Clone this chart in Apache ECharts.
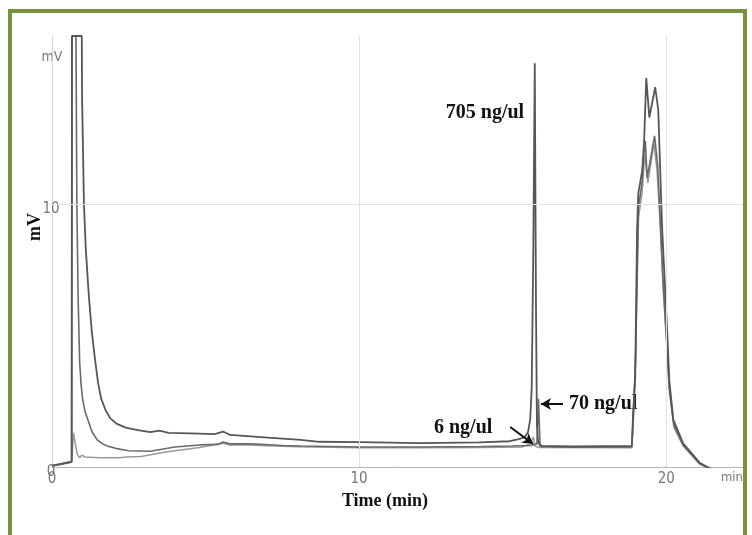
<!DOCTYPE html>
<html>
<head>
<meta charset="utf-8">
<script src="https://cdn.jsdelivr.net/npm/echarts@6/dist/echarts.min.js"></script>
<style>
  html, body { margin: 0; padding: 0; background: #fff; }
  #chart { width: 752px; height: 535px; }
</style>
</head>
<body>
<div id="chart"></div>
<script>
// trace 1 (705 ng/ul) - time (min) and signal (mV)
var timeA = [0, 0.3, 0.64, 0.65, 0.97, 0.98, 1.04, 1.1, 1.2, 1.3, 1.4, 1.5, 1.6, 1.75, 1.9, 2.1, 2.4, 2.8, 3.2, 3.5, 3.8, 4.5, 5.3, 5.57, 5.8, 6.8, 8.1, 8.7, 10, 12, 13.9, 14.9, 15.2, 15.4, 15.5, 15.57, 15.62, 15.67, 15.72, 15.76, 15.79, 15.83, 15.9, 17, 18.88, 18.92, 18.99, 19.05, 19.09, 19.22, 19.28, 19.35, 19.45, 19.64, 19.74, 19.84, 19.87, 20.03, 20.1, 20.23, 20.55, 21.1, 21.5];
var mvA   = [0.05, 0.12, 0.2, 16.4, 16.4, 14, 10, 8.3, 6.5, 5.1, 4.1, 3.2, 2.6, 2.15, 1.85, 1.65, 1.5, 1.4, 1.33, 1.38, 1.3, 1.28, 1.25, 1.35, 1.22, 1.14, 1.03, 0.96, 0.95, 0.91, 0.94, 0.98, 1.06, 1.14, 1.33, 1.8, 3, 8, 15.36, 6, 1.6, 0.95, 0.8, 0.78, 0.8, 2, 3.4, 9, 10.4, 11.3, 12.4, 14.8, 13.3, 14.45, 13.6, 10, 9, 5.2, 3.3, 1.8, 0.9, 0.15, -0.1];

// trace 2 (70 ng/ul)
var timeB = [0, 0.3, 0.64, 0.65, 0.78, 0.81, 0.85, 0.9, 0.95, 1.0, 1.08, 1.17, 1.3, 1.47, 1.65, 1.8, 2.1, 2.5, 3.2, 4.0, 4.8, 5.4, 5.57, 5.8, 6.5, 7.5, 8.1, 10, 12, 14, 15.0, 15.6, 15.79, 15.84, 15.89, 15.95, 17, 18.88, 18.93, 19.0, 19.09, 19.22, 19.25, 19.32, 19.38, 19.62, 19.72, 19.8, 19.9, 20.03, 20.1, 20.25, 20.55, 21.1, 21.5];
var mvB   = [0.05, 0.12, 0.2, 16.4, 16.4, 10, 6.5, 4, 3.1, 2.55, 2.1, 1.79, 1.35, 1.03, 0.88, 0.8, 0.7, 0.62, 0.6, 0.76, 0.84, 0.86, 0.95, 0.88, 0.88, 0.82, 0.8, 0.76, 0.76, 0.78, 0.8, 0.82, 0.88, 2.6, 0.88, 0.78, 0.76, 0.76, 2, 4, 9.8, 10.9, 11.7, 12.4, 11.0, 12.6, 11.5, 9.5, 7, 4.5, 3, 1.6, 0.85, 0.12, -0.1];

// trace 3 (6 ng/ul)
var timeC = [0, 0.64, 0.7, 0.82, 0.9, 0.97, 1.07, 1.56, 2.2, 2.4, 2.9, 3.7, 4.2, 4.8, 5.57, 5.8, 6.1, 8, 10, 12, 14, 15.3, 15.6, 15.67, 15.73, 15.85, 18.88, 18.94, 19.0, 19.1, 19.22, 19.3, 19.4, 19.6, 19.7, 19.8, 19.9, 20.03, 20.1, 20.25, 20.55, 21.1, 21.5];
var mvC   = [0.03, 0.18, 1.3, 0.5, 0.35, 0.45, 0.38, 0.35, 0.35, 0.38, 0.4, 0.57, 0.65, 0.74, 0.9, 0.83, 0.85, 0.77, 0.73, 0.73, 0.74, 0.76, 0.9, 1.15, 0.8, 0.74, 0.73, 2, 4.2, 9.5, 10.5, 11.9, 10.8, 12.3, 11.3, 9.3, 6.8, 4.4, 2.9, 1.5, 0.8, 0.1, -0.1];

var xTicks = [0, 10, 20];
var yTicks = [0, 10];
var gridX = [10, 20];
var gridY = [10];

function pairs(t, v) {
  return t.map(function (x, i) { return [x, v[i]]; });
}

var serif = '"Liberation Serif", "DejaVu Serif", serif';
var narrow = '"Liberation Sans Narrow", "DejaVu Sans Condensed", "Liberation Sans", sans-serif';

var gridLines = [];
gridX.forEach(function (x) { gridLines.push({ xAxis: x }); });
gridY.forEach(function (y) { gridLines.push({ yAxis: y }); });

var myChart = echarts.init(document.getElementById('chart'));
myChart.setOption({
  animation: false,
  backgroundColor: '#fff',
  grid: { left: 52, right: 9, top: 36, bottom: 68 },
  xAxis: {
    type: 'value',
    min: 0, max: 22.5, interval: 10,
    axisLine: { lineStyle: { color: '#b5b5b5', width: 1 } },
    axisTick: { show: false },
    splitLine: { show: false },
    axisLabel: {
      color: '#777', fontFamily: narrow, fontSize: 15, margin: 5,
      showMaxLabel: false,
      formatter: function (v) { return xTicks.indexOf(v) >= 0 ? String(v) : ''; }
    }
  },
  yAxis: {
    type: 'value',
    min: 0, max: 16.4, interval: 10,
    axisLine: { show: true, lineStyle: { color: '#d0d0d0', type: 'dotted', width: 1 } },
    axisTick: { show: false },
    splitLine: { show: false },
    axisLabel: {
      color: '#777', fontFamily: narrow, fontSize: 15, margin: 1, align: 'center',
      verticalAlign: 'top', lineHeight: 10,
      showMaxLabel: false,
      formatter: function (v) { return yTicks.indexOf(v) >= 0 ? String(v) : ''; }
    }
  },
  series: [
    {
      type: 'line', data: [], z: 1, silent: true,
      markLine: {
        silent: true, symbol: 'none', label: { show: false },
        lineStyle: { color: '#e2e2e2', type: 'solid', width: 1 },
        data: gridLines
      }
    },
    {
      name: '705 ng/ul', type: 'line', data: pairs(timeA, mvA), z: 4,
      showSymbol: false, clip: true,
      lineStyle: { color: '#565656', width: 1.8 }
    },
    {
      name: '70 ng/ul', type: 'line', data: pairs(timeB, mvB), z: 3,
      showSymbol: false, clip: true,
      lineStyle: { color: '#6a6a6a', width: 1.6 }
    },
    {
      name: '6 ng/ul', type: 'line', data: pairs(timeC, mvC), z: 2,
      showSymbol: false, clip: true,
      lineStyle: { color: '#999', width: 1.5 },
      markLine: {
        silent: true, symbol: ['none', 'arrow'], symbolSize: [9, 10],
        label: { show: false },
        lineStyle: { color: '#111', type: 'solid', width: 2 },
        data: [
          [{ coord: [14.92, 1.52] }, { coord: [15.66, 0.88] }],
          [{ coord: [16.64, 2.4] }, { coord: [15.92, 2.4] }]
        ]
      }
    }
  ],
  graphic: [
    { type: 'rect', shape: { x: 10, y: 11, width: 735, height: 540 },
      style: { fill: 'none', stroke: '#76923C', lineWidth: 4 }, z: 100 },
    { type: 'text', x: 52, y: 57, style: { text: 'mV', fill: '#777', font: '14px ' + narrow, textAlign: 'center', textVerticalAlign: 'middle' } },
    { type: 'text', x: 732, y: 478, style: { text: 'min', fill: '#777', font: '13px ' + narrow, textAlign: 'center', textVerticalAlign: 'middle' } },
    { type: 'text', x: 35, y: 227, rotation: Math.PI / 2, style: { text: 'mV', fill: '#111', font: 'bold 18px ' + serif, textAlign: 'center', textVerticalAlign: 'middle' } },
    { type: 'text', x: 385, y: 501, style: { text: 'Time (min)', fill: '#111', font: 'bold 18px ' + serif, textAlign: 'center', textVerticalAlign: 'middle' } },
    { type: 'text', x: 485, y: 113, style: { text: '705 ng/ul', fill: '#111', font: 'bold 20px ' + serif, textAlign: 'center', textVerticalAlign: 'middle' } },
    { type: 'text', x: 569, y: 404, style: { text: '70 ng/ul', fill: '#111', font: 'bold 20px ' + serif, textAlign: 'left', textVerticalAlign: 'middle' } },
    { type: 'text', x: 434, y: 428, style: { text: '6 ng/ul', fill: '#111', font: 'bold 20px ' + serif, textAlign: 'left', textVerticalAlign: 'middle' } }
  ]
});
</script>
</body>
</html>
